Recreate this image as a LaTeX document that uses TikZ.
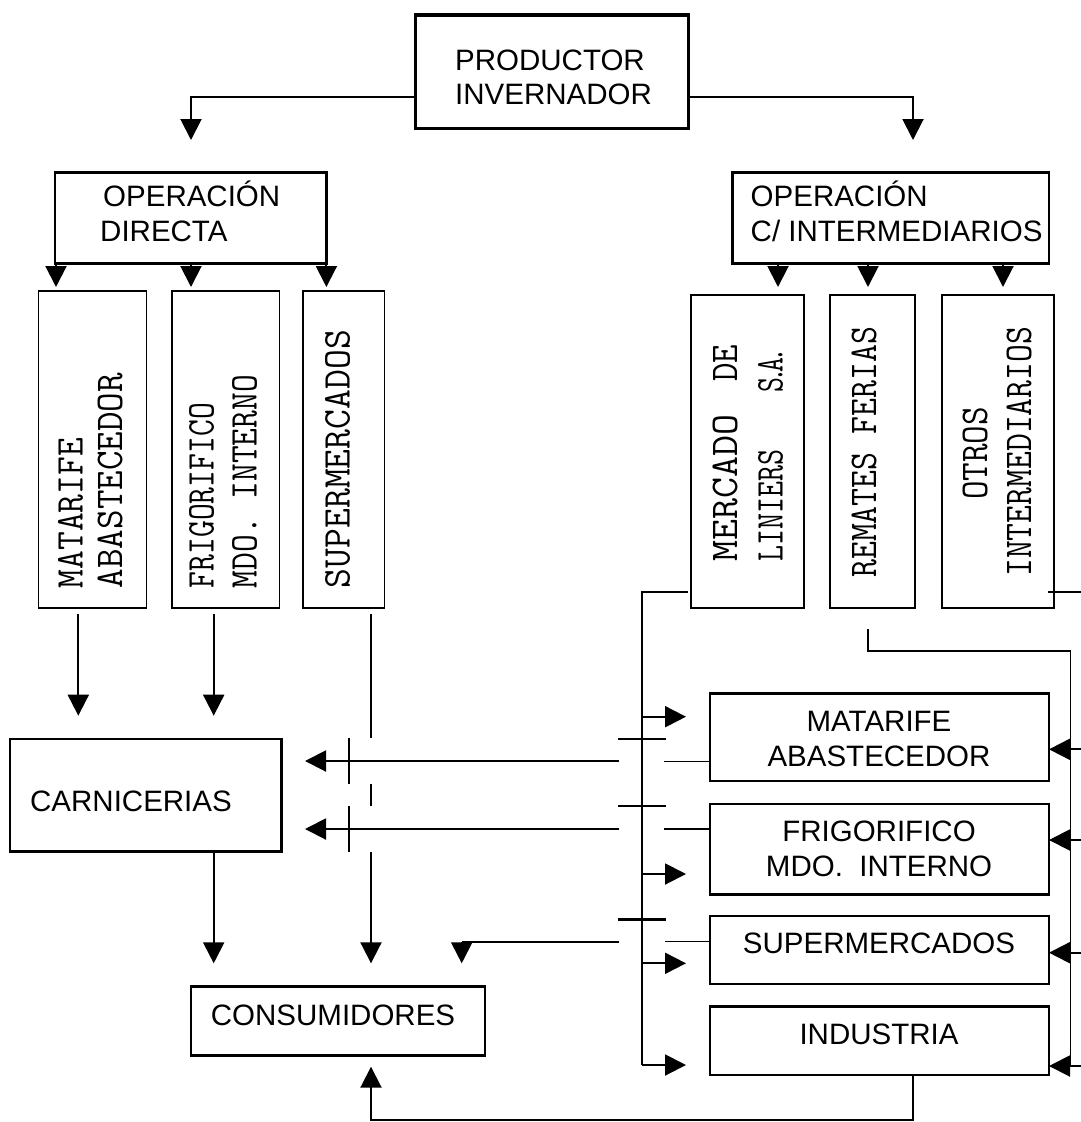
\documentclass[tikz,border=0pt]{standalone}
\usepackage{fontspec}
\setmainfont{Liberation Sans}
\usetikzlibrary{arrows.meta}
\newlength\vtwidth
\newcommand\vtfont{\ttfamily\fontsize{30}{30}\selectfont}
\newcommand\vtext[2]{\settowidth\vtwidth{\vtfont #2}\scalebox{\fpeval{#1/\the\vtwidth}}[1.31]{\vtfont #2}}
\begin{document}
\begin{tikzpicture}[x=1pt,y=-1pt,
  box/.style={draw, line width=2.6pt, inner sep=0pt, outer sep=0pt, anchor=north west},
  vbox/.style={draw, line width=1.7pt, inner sep=0pt, outer sep=0pt, anchor=north west},
  lbl/.style={font=\fontsize{29.5}{34}\selectfont, inner sep=0pt, anchor=base west},
  clbl/.style={font=\fontsize{29.5}{34}\selectfont, inner sep=0pt, anchor=base},
  vt/.style={rotate=90, anchor=base west, inner sep=0pt},
  arr/.style={line width=2pt, -{Triangle[length=21pt,width=21pt]}},
  ln/.style={line width=2pt},
  thinln/.style={line width=1.3pt},
  barln/.style={line width=2.7pt}]
\useasboundingbox (0,0) rectangle (1081,1122);

% ---- boxes ----
\node[box, line width=3.6pt, minimum width=272.8pt, minimum height=113.5pt] (prod) at (415.6,15) {};
\node[box, minimum width=271.4pt, minimum height=90.6pt] (opd) at (55,172.7) {};
\node[box, minimum width=316.8pt, minimum height=90.6pt] (opi) at (732.2,172.7) {};
\node[vbox, minimum width=107.8pt, minimum height=316.7pt] (vmat) at (38.6,291) {};
\node[vbox, minimum width=107.6pt, minimum height=316.7pt] (vfri) at (172,291) {};
\node[vbox, minimum width=81.6pt, minimum height=316.7pt] (vsup) at (303,291) {};
\node[vbox, minimum width=113pt, minimum height=312.7pt] (vmer) at (691,295) {};
\node[vbox, minimum width=85pt, minimum height=312.7pt] (vrem) at (830,295) {};
\node[vbox, minimum width=112pt, minimum height=312.7pt] (votr) at (942,295) {};
\node[box, minimum width=271.7pt, minimum height=112.7pt] (carn) at (10,739) {};
\node[box, minimum width=294pt, minimum height=69pt] (cons) at (191,986.7) {};
\node[box, minimum width=339pt, minimum height=87.7pt] (rmat) at (710,693.3) {};
\node[box, minimum width=339pt, minimum height=90.3pt] (rfri) at (710,804) {};
\node[box, minimum width=339pt, minimum height=68pt] (rsup) at (710,916) {};
\node[box, minimum width=339pt, minimum height=68.3pt] (rind) at (710,1006.7) {};

% ---- horizontal labels ----
\node[lbl] (tprod1) at (455,70) {PRODUCTOR};
\node[lbl] (tprod2) at (455,104) {INVERNADOR};
\node[lbl] (topd1) at (103,206.7) {OPERACIÓN};
\node[lbl] (topd2) at (100,241.7) {DIRECTA};
\node[lbl] (topi1) at (750.5,206.7) {OPERACIÓN};
\node[lbl] (topi2) at (750.5,241.7) {C/ INTERMEDIARIOS};
\node[lbl] (tcarn) at (30,811) {CARNICERIAS};
\node[lbl] (tcons) at (210.7,1025) {CONSUMIDORES};
\node[clbl] (trmat1) at (879,731.7) {MATARIFE};
\node[clbl] (trmat2) at (879,766.7) {ABASTECEDOR};
\node[clbl] (trfri1) at (879,841.7) {FRIGORIFICO};
\node[clbl] (trfri2) at (879,876) {MDO.\ \ INTERNO};
\node[clbl] (trsup) at (879,953.3) {SUPERMERCADOS};
\node[clbl] (trind) at (879,1044) {INDUSTRIA};

% ---- vertical labels ----
\node[vt] (tv1) at (82.6,588.3) {\vtext{150}{MATARIFE}};
\node[vt] (tv2) at (122.2,588.3) {\vtext{215}{ABASTECEDOR}};
\node[vt] (tv3) at (213.5,588.3) {\vtext{185}{FRIGORIFICO}};
\node[vt] (tv4) at (256.5,588.3) {\vtext{213}{MDO. INTERNO}};
\node[vt] (tv5) at (349.5,588.3) {\vtext{258}{SUPERMERCADOS}};
\node[vt] (tv6) at (737,562) {\vtext{147}{MERCADO}};
\node[vt] (tv7) at (737,382) {\vtext{37}{DE}};
\node[vt] (tv8) at (782.7,562) {\vtext{112}{LINIERS}};
\node[vt] (tv9) at (782.7,393) {\vtext{45}{S\kern-5pt.\kern-5pt A\kern-5pt.}};
\node[vt] (tv10) at (876,578) {\vtext{251}{REMATES FERIAS}};
\node[vt] (tv11) at (987,500) {\vtext{93}{OTROS}};
\node[vt] (tv12) at (1031,577) {\vtext{250}{INTERMEDIARIOS}};

% ---- coordinates ----
\coordinate (c97) at (0,97);
\coordinate (opdin) at (191,140);
\coordinate (opiin) at (913,140);

% ---- top connectors ----
\draw[arr] (prod.west |- c97) -| (opdin);
\draw[arr] (prod.east |- c97) -| (opiin);
\foreach \x in {56,191,326.4}{\draw[arr] (\x,263.3) -- (\x,287);}
\foreach \x in {778,868,1003}{\draw[arr] (\x,263.3) -- (\x,287);}

% ---- left column flows ----
\draw[arr] (78.3,614) -- (78.3,715.7);
\draw[arr] (213.7,614) -- (213.7,715.7);
\draw[ln] (371,614) -- (371,738.3);
\draw[ln] (371,784.3) -- (371,805.7);
\draw[arr] (371,851.7) -- (371,963.3);
\draw[barln] (349,738.3) -- (349,784.3);
\draw[barln] (349,805.7) -- (349,851.7);
\draw[arr] (carn.south -| 213.7,0) -- (213.7,963.3);

% ---- arrows into CARNICERIAS ----
\draw[arr] (619.3,761) -- (305,761);
\draw[arr] (619.3,829) -- (305,829);
\draw[thinln] (rmat.west |- 0,761.5) -- (664.3,761.5);
\draw[thinln] (rfri.west |- 0,829) -- (664.3,829);
\draw[thinln] (rsup.west |- 0,941.7) -- (665,941.7);
\draw[ln] (619.3,942) -- (461.7,942);
\draw[arr] (461.7,942) -- (461.7,963.3);

% ---- crossing bars ----
\foreach \y in {739,806,919.3}{\draw[barln] (618.3,\y) -- (665.7,\y);}

% ---- MERCADO DE LINIERS distribution ----
\draw[ln] (688,592) -- (641.7,592) -- (641.7,1065);
\draw[arr] (641.7,1065) -- (686,1065);
\foreach \y in {716.7,874,963.3}{\draw[arr] (641.7,\y) -- (686,\y);}

% ---- REMATES FERIAS distribution ----
\draw[ln, line width=1.8pt] (vrem.south -| 867.7,0) ++(0,21.3) -- (867.7,650.7) -- (1070.5,650.7) -- (1070.5,1066);
\draw[ln] (1047.7,592) -- (1081,592);
\foreach \y in {749.3,840,952.7,1066}{\draw[arr] (1081,\y) -- (1049,\y);}

% ---- INDUSTRIA to CONSUMIDORES ----
\draw[arr] (912.7,1075) -- (912.7,1120) -- (371,1120) -- (371,1066.7);
\end{tikzpicture}
\end{document}
